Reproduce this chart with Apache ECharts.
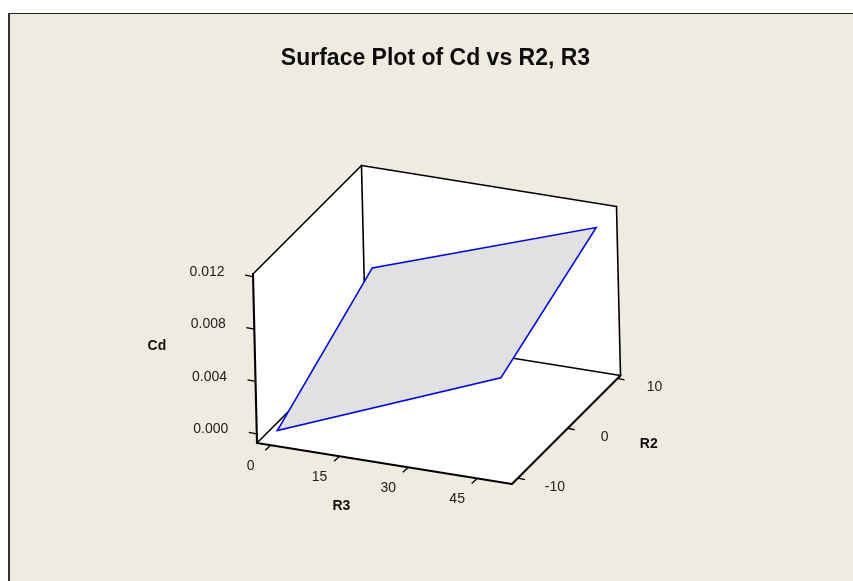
<!DOCTYPE html>
<html><head><meta charset="utf-8">
<style>html,body{margin:0;padding:0;background:#fff}#c{width:853px;height:581px}</style>
<script src="https://cdn.jsdelivr.net/npm/echarts@6/dist/echarts.min.js"></script>
</head><body><div id="c"></div>
<script>
const titleText = 'Surface Plot of Cd vs R2, R3';
// surface corners
const surfaceR3 = [-0.5, -0.5, 48.7, 48.7];
const surfaceR2 = [-9.4, 10, 10, -9.4];
const surfaceCd = [-0.0003, 0.00475, 0.0106, 0.0065];
// axis ticks
const r3Ticks = [0, 15, 30, 45];
const r2Ticks = [-10, 0, 10];
const cdTicks = [0, 0.004, 0.008, 0.012];
// axis box limits
const r3Range = [-3, 52.6];
const r2Range = [-11.2, 10.6];
const cdRange = [-0.0007, 0.0122];

// camera: maps unit box coordinates to page pixels
const camX = [255, 108.5, -4, 257];
const camY = [41, -108.5, -169, 443];
function project(r3, r2, cd) {
  const u = (r3 - r3Range[0]) / (r3Range[1] - r3Range[0]);
  const v = (r2 - r2Range[0]) / (r2Range[1] - r2Range[0]);
  const w = (cd - cdRange[0]) / (cdRange[1] - cdRange[0]);
  return [camX[0] * u + camX[1] * v + camX[2] * w + camX[3],
          camY[0] * u + camY[1] * v + camY[2] * w + camY[3]];
}
const r0 = r3Range[0], r1 = r3Range[1], s0 = r2Range[0], s1 = r2Range[1], c0 = cdRange[0], c1 = cdRange[1];
const walls = [
  [[r0,s0,c0],[r0,s0,c1],[r0,s1,c1],[r0,s1,c0]],
  [[r0,s1,c1],[r1,s1,c1],[r1,s1,c0],[r0,s1,c0]],
  [[r0,s0,c0],[r1,s0,c0],[r1,s1,c0],[r0,s1,c0]]
];
const backEdges = [
  [[r0,s0,c1],[r0,s1,c1]], [[r0,s1,c1],[r1,s1,c1]], [[r1,s1,c1],[r1,s1,c0]],
  [[r0,s1,c1],[r0,s1,c0]], [[r0,s1,c0],[r1,s1,c0]], [[r0,s0,c0],[r0,s1,c0]]
];
const axisEdges = [
  [[r0,s0,c0],[r0,s0,c1]], [[r0,s0,c0],[r1,s0,c0]], [[r1,s0,c0],[r1,s1,c0]]
];
const ink = '#000';
const tickInk = '#222';
const textFont = '"Liberation Sans", Arial, sans-serif';

const chart = echarts.init(document.getElementById('c'), null, {renderer: 'canvas'});
const toPx = (api, p) => api.coord(project(p[0], p[1], p[2]));
const idx = arr => arr.map((_, i) => [i]);
function lineSeries(edges, width, z) {
  return {
    type: 'custom', coordinateSystem: 'cartesian2d', z, silent: true, clip: false, animation: false,
    encode: {x: 0}, data: idx(edges),
    renderItem(params, api) {
      const e = edges[api.value(0)], a = toPx(api, e[0]), b = toPx(api, e[1]);
      return {type: 'line', shape: {x1: a[0], y1: a[1], x2: b[0], y2: b[1]},
              style: {stroke: ink, lineWidth: width, lineCap: 'round'}};
    }
  };
}
function tickSeries(values, pointOf, tdx, tdy, ldx, ldy, fmt) {
  return {
    type: 'custom', coordinateSystem: 'cartesian2d', z: 6, silent: true, clip: false, animation: false,
    encode: {x: 0}, data: idx(values),
    renderItem(params, api) {
      const v = values[api.value(0)], a = toPx(api, pointOf(v));
      return {type: 'group', children: [
        {type: 'line', shape: {x1: a[0], y1: a[1], x2: a[0] + tdx, y2: a[1] + tdy},
         style: {stroke: ink, lineWidth: 1.3}},
        {type: 'text', x: a[0] + ldx, y: a[1] + ldy,
         style: {text: fmt(v), fill: tickInk, font: '14px ' + textFont, align: 'center', verticalAlign: 'middle'}}
      ]};
    }
  };
}
function nameSeries(text, point, ldx, ldy) {
  return {
    type: 'custom', coordinateSystem: 'cartesian2d', z: 6, silent: true, clip: false, animation: false,
    encode: {x: 0}, data: [[0]],
    renderItem(params, api) {
      const a = toPx(api, point);
      return {type: 'text', x: a[0] + ldx, y: a[1] + ldy,
        style: {text, fill: '#111', font: 'bold 14px ' + textFont, align: 'center', verticalAlign: 'middle'}};
    }
  };
}
chart.setOption({
  backgroundColor: '#ffffff',
  animation: false,
  title: {text: titleText, left: 430.5, top: 42, textAlign: 'center',
          textStyle: {fontFamily: textFont, fontWeight: 'bold', fontSize: 23, color: '#0c0c0c'}},
  grid: {left: 0, right: 0, top: 0, bottom: 0},
  xAxis: {type: 'value', min: 0, max: 853, show: false},
  yAxis: {type: 'value', min: 0, max: 581, inverse: true, show: false},
  graphic: [
    {type: 'rect', z: -10, shape: {x: 9, y: 13.5, width: 850, height: 575},
     style: {fill: '#EFEBE1', stroke: null}},
    {type: 'line', z: -9, shape: {x1: 9, y1: 13.5, x2: 853, y2: 13.5}, style: {stroke: '#222', lineWidth: 1}},
    {type: 'line', z: -9, shape: {x1: 9, y1: 13, x2: 9, y2: 581}, style: {stroke: '#333', lineWidth: 2}}
  ],
  series: [
    {
      type: 'custom', coordinateSystem: 'cartesian2d', z: 2, silent: true, clip: false, animation: false,
      encode: {x: 0}, data: idx(walls),
      renderItem(params, api) {
        const pts = walls[api.value(0)].map(p => toPx(api, p));
        return {type: 'polygon', shape: {points: pts}, style: {fill: '#ffffff', stroke: null}};
      }
    },
    lineSeries(backEdges, 1.6, 3),
    {
      type: 'custom', coordinateSystem: 'cartesian2d', z: 4, silent: true, clip: false, animation: false,
      encode: {x: 0}, data: [[0]],
      renderItem(params, api) {
        const pts = surfaceR3.map((r, i) => toPx(api, [r, surfaceR2[i], surfaceCd[i]]));
        return {type: 'polygon', shape: {points: pts},
                style: {fill: '#E1E1E1', stroke: '#0000FF', lineWidth: 1.6, lineJoin: 'miter'}};
      }
    },
    lineSeries(axisEdges, 2.1, 5),
    tickSeries(cdTicks, v => [r0, s0, v], -8, -1.5, -46, -4.5, v => v.toFixed(3)),
    tickSeries(r3Ticks, v => [v, s0, c0], -5.5, 5, -20, 20.5, v => String(v)),
    tickSeries(r2Ticks, v => [r1, v, c0], 7, 1.5, 37, 9, v => String(v)),
    nameSeries('Cd', [r0, s0, 0.006], -98, -9),
    nameSeries('R3', [25, s0, c0], -44, 42),
    nameSeries('R2', [r1, 0, c0], 81, 16)
  ]
});
</script></body></html>
